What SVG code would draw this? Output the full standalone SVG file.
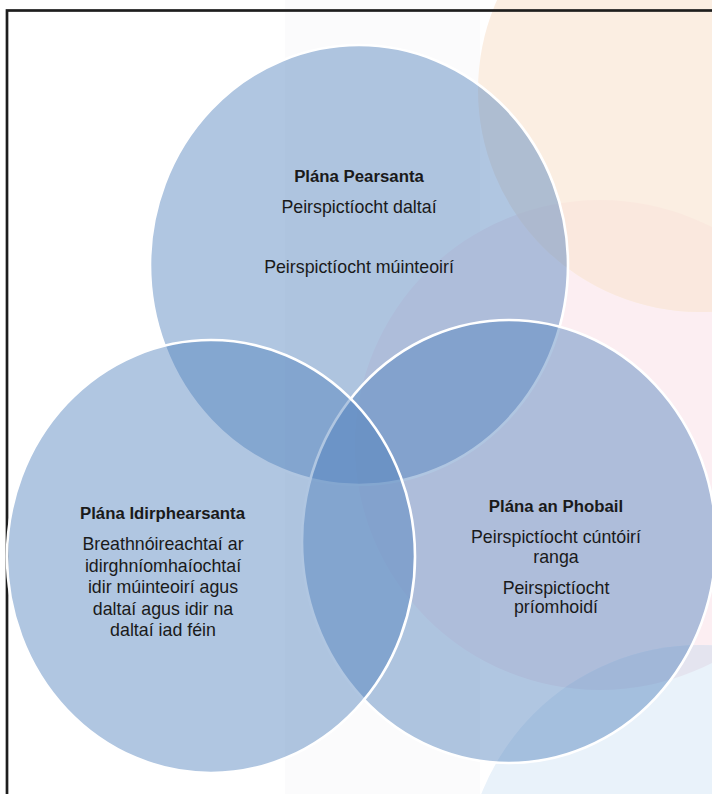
<svg xmlns="http://www.w3.org/2000/svg" width="712" height="794" viewBox="0 0 712 794">
<defs>
<style>
.bg{stroke:none}
.venn{fill:#4F81BD;fill-opacity:0.45;stroke:#FFFFFF;stroke-width:2.6}
.t{font-family:"Liberation Sans",Arial,sans-serif;font-size:17.8px;fill:#1A1A1A;text-anchor:middle}
.b{font-family:"Liberation Sans",Arial,sans-serif;font-size:16.8px;font-weight:bold;fill:#1A1A1A;text-anchor:middle}
</style>
<clipPath id="pinkClip"><circle cx="600" cy="445" r="245"/></clipPath>
</defs>
<g id="background">
<rect class="bg" x="0" y="0" width="712" height="794" fill="#FFFFFF"/>
<rect class="bg" x="285" y="0" width="195" height="794" fill="#FBFBFC"/>
<circle class="bg" cx="600" cy="445" r="245" fill="#FCEEF2"/>
<circle class="bg" cx="700" cy="90" r="222" fill="#FBEEE2"/>
<circle class="bg" cx="700" cy="90" r="222" fill="#FAE8DE" clip-path="url(#pinkClip)"/>
<circle class="bg" cx="700" cy="880" r="235" fill="#E9F2FA"/>
<circle class="bg" cx="700" cy="880" r="235" fill="#E4E4EF" clip-path="url(#pinkClip)"/>
<rect x="7" y="10.5" width="720" height="800" fill="none" stroke="#1E1E1E" stroke-width="2.7"/>
</g>
<g id="connectors"></g>
<g id="node-pearsanta">
<ellipse class="venn" cx="359" cy="265" rx="209" ry="220"/>
</g>
<g id="node-phobail">
<ellipse class="venn" cx="509" cy="541.5" rx="207" ry="221.5"/>
</g>
<g id="node-idirphearsanta">
<ellipse class="venn" cx="211" cy="556.5" rx="204" ry="216.5"/>
</g>
<g id="labels-pearsanta">
<text class="b" x="359" y="182">Plána Pearsanta</text>
<text class="t" x="359" y="213">Peirspictíocht daltaí</text>
<text class="t" x="359" y="273">Peirspictíocht múinteoirí</text>
</g>
<g id="labels-idirphearsanta">
<text class="b" x="162.5" y="519">Plána Idirphearsanta</text>
<text class="t" x="163" y="550">Breathnóireachtaí ar</text>
<text class="t" x="163" y="571.5">idirghníomhaíochtaí</text>
<text class="t" x="163" y="593">idir múinteoirí agus</text>
<text class="t" x="163" y="614.5">daltaí agus idir na</text>
<text class="t" x="163" y="636">daltaí iad féin</text>
</g>
<g id="labels-phobail">
<text class="b" x="556" y="512">Plána an Phobail</text>
<text class="t" x="556" y="543">Peirspictíocht cúntóirí</text>
<text class="t" x="556" y="562.5">ranga</text>
<text class="t" x="556" y="593.5">Peirspictíocht</text>
<text class="t" x="556" y="613">príomhoidí</text>
</g>
</svg>
